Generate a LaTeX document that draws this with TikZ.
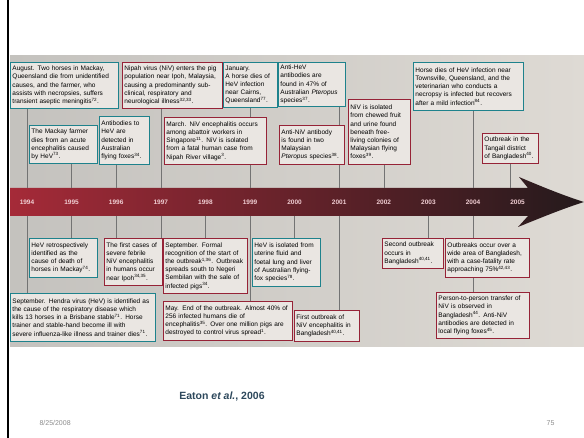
\documentclass[tikz,border=0pt]{standalone}
\usepackage{fontspec}
\setmainfont{Liberation Sans}
\definecolor{hevcol}{RGB}{30,130,140}
\definecolor{nivcol}{RGB}{150,35,55}
\definecolor{boxfill}{RGB}{234,230,226}
\definecolor{panelleft}{RGB}{196,194,190}
\definecolor{panelright}{RGB}{222,218,212}
\definecolor{bandleft}{RGB}{165,42,56}
\definecolor{bandmid}{RGB}{108,36,42}
\definecolor{bandright}{RGB}{36,26,28}
\definecolor{yearcol}{RGB}{240,205,210}
\definecolor{citecol}{RGB}{45,72,92}
\newcommand{\rf}[1]{\textsuperscript{#1}}
\tikzset{
  event/.style={draw, fill=boxfill, line width=0.9pt, anchor=north west, inner sep=2pt,
    align=left, font=\fontsize{6.5}{8.2}\selectfont},
  hev/.style={event, draw=hevcol},
  niv/.style={event, draw=nivcol},
  link/.style={draw=black!55, line width=0.6pt},
  year/.style={text=yearcol, font=\fontsize{6.5}{7}\selectfont\bfseries},
}
\begin{document}
\begin{tikzpicture}[x=1pt,y=-1pt]
\useasboundingbox (0,0) rectangle (584,438);
\fill[white] (0,0) rectangle (584,438);
\shade[left color=panelleft, right color=panelright] (10,56) rectangle (584,347);
\draw[line width=2pt] (8,0) -- (8,438);

% timeline arrow
\shade[left color=bandleft, middle color=bandmid, right color=bandright]
  (10,188) -- (528,188) -- (519,177) .. controls (545,188) and (565,196) .. (584,202)
  .. controls (565,208) and (545,216) .. (518,227) -- (528,216) -- (10,216) -- cycle;
\foreach \yr [count=\i from 0] in {1994,...,2005} {
  \coordinate (up\yr) at ({27+44.6*\i},188);
  \coordinate (dn\yr) at ({27+44.6*\i},216);
  \node[year] (yr\yr) at ({27+44.6*\i},202) {\yr};
}

% above the timeline
\node[hev, text width=104pt, minimum height=46pt] (b1) at (10,62) {August. Two horses in Mackay,\\ Queensland die from unidentified\\ causes, and the farmer, who\\ assists with necropsies, suffers\\ transient aseptic meningitis\rf{72}.};
\node[niv, text width=96pt, minimum height=46pt] (b4) at (122,62) {Nipah virus (NiV) enters the pig\\ population near Ipoh, Malaysia,\\ causing a predominantly sub-\\ clinical, respiratory and\\ neurological illness\rf{32,33}.};
\node[hev, text width=50pt, minimum height=45pt] (b6) at (223,62) {January.\\ A horse dies of\\ HeV infection\\ near Cairns,\\ Queensland\rf{77}.};
\node[hev, text width=63pt, minimum height=44pt] (b7) at (278,62) {Anti-HeV\\ antibodies are\\ found in 47\% of\\ Australian \textit{Pteropus}\\ species\rf{37}.};
\node[hev, text width=106pt, minimum height=48pt] (b10) at (413,62) {Horse dies of HeV infection near\\ Townsville, Queensland, and the\\ veterinarian who conducts a\\ necropsy is infected but recovers\\ after a mild infection\rf{84}.};
\node[hev, text width=64pt, minimum height=38pt] (b2) at (29,125) {The Mackay farmer\\ dies from an acute\\ encephalitis caused\\ by HeV\rf{73}.};
\node[hev, text width=46pt, minimum height=48pt] (b3) at (99,116) {Antibodies to\\ HeV are\\ detected in\\ Australian\\ flying foxes\rf{34}.};
\node[niv, text width=98pt, minimum height=47pt] (b5) at (164,117) {March. NiV encephalitis occurs\\ among abattoir workers in\\ Singapore\rf{11}. NiV is isolated\\ from a fatal human case from\\ Nipah River village\rf{3}.};
\node[niv, text width=61pt, minimum height=39pt] (b8) at (279,125) {Anti-NiV antibody\\ is found in two\\ Malaysian\\ \textit{Pteropus} species\rf{38}.};
\node[niv, text width=58pt, minimum height=65pt] (b9) at (348,99) {NiV is isolated\\ from chewed fruit\\ and urine found\\ beneath free-\\ living colonies of\\ Malaysian flying\\ foxes\rf{39}.};
\node[niv, text width=52pt, minimum height=30pt] (b11) at (482,133) {Outbreak in the\\ Tangail district\\ of Bangladesh\rf{40}.};

% below the timeline
\node[hev, text width=64pt, minimum height=39pt] (b12) at (29,238) {HeV retrospectively\\ identified as the\\ cause of death of\\ horses in Mackay\rf{74}.};
\node[niv, text width=54pt, minimum height=47pt] (b13) at (104,238) {The first cases of\\ severe febrile\\ NiV encephalitis\\ in humans occur\\ near Ipoh\rf{34,35}.};
\node[hev, text width=141pt, minimum height=48pt] (b14) at (10,293) {September. Hendra virus (HeV) is identified as\\ the cause of the respiratory disease which\\ kills 13 horses in a Brisbane stable\rf{71}. Horse\\ trainer and stable-hand become ill with\\ severe influenza-like illness and trainer dies\rf{71}.};
\node[niv, text width=80pt, minimum height=55pt] (b15) at (163,238) {September. Formal\\ recognition of the start of\\ the outbreak\rf{1,36}. Outbreak\\ spreads south to Negeri\\ Sembilan with the sale of\\ infected pigs\rf{34}.};
\node[niv, text width=125pt, minimum height=39pt] (b16) at (163,301) {May. End of the outbreak. Almost 40\% of\\ 256 infected humans die of\\ encephalitis\rf{35}. Over one million pigs are\\ destroyed to control virus spread\rf{1}.};
\node[hev, text width=64pt, minimum height=48pt] (b17) at (252,238) {HeV is isolated from\\ uterine fluid and\\ foetal lung and liver\\ of Australian flying-\\ fox species\rf{78}.};
\node[niv, text width=61pt, minimum height=31pt] (b18) at (294,310) {First outbreak of\\ NiV encephalitis in\\ Bangladesh\rf{40,41}.};
\node[niv, text width=57pt, minimum height=30pt] (b19) at (382,238) {Second outbreak\\ occurs in\\ Bangladesh\rf{40,41}.};
\node[niv, text width=80pt, minimum height=39pt] (b20) at (445,238) {Outbreaks occur over a\\ wide area of Bangladesh,\\ with a case-fatality rate\\ approaching 75\%\rf{42,43}.};
\node[niv, text width=89pt, minimum height=46pt] (b21) at (436,292) {Person-to-person transfer of\\ NiV is observed in\\ Bangladesh\rf{44}. Anti-NiV\\ antibodies are detected in\\ local flying foxes\rf{45}.};

\draw[link] (b1.south -| up1994) -- (up1994);
\draw[link] (b2.south -| up1995) -- (up1995);
\draw[link] (b3.south -| up1996) -- (up1996);
\draw[link] (b4.south -| up1997) -- (up1997);
\draw[link] (b6.south -| up1999) -- (b5.north -| up1999);
\draw[link] (b5.south -| up1999) -- (up1999);
\draw[link] (b7.south -| up2001) -- (b8.north -| up2001);
\draw[link] (b8.south -| up2001) -- (up2001);
\draw[link] (b9.south -| up2002) -- (up2002);
\draw[link] (b10.south -| up2004) -- (up2004);
\draw[link] (b11.south) -- (b11.south |- up2005);
\draw[link] (dn1994) -- (b14.north -| dn1994);
\draw[link] (dn1995) -- (b12.north -| dn1995);
\draw[link] (dn1996) -- (b13.north -| dn1996);
\draw[link] (dn1997) -- (b13.north -| dn1997);
\draw[link] (dn1998) -- (b15.north -| dn1998);
\draw[link] (dn1999) -- (b16.north -| dn1999);
\draw[link] (dn2000) -- (b17.north -| dn2000);
\draw[link] (dn2001) -- (b18.north -| dn2001);
\draw[link] (dn2003) -- (b19.north -| dn2003);
\draw[link] (dn2004) -- (b20.north -| dn2004);
\draw[link] (b20.south -| dn2004) -- (b21.north -| dn2004);

\node[text=citecol, font=\fontsize{10.5}{12}\selectfont\bfseries] (cite) at (222,397) {Eaton \textit{et al.}, 2006};
\node[text=black!45, font=\fontsize{7}{8}\selectfont, anchor=west] (date) at (36,423) {8/25/2008};
\node[text=black!45, font=\fontsize{7}{8}\selectfont, anchor=east] (page) at (558,423) {75};
\end{tikzpicture}
\end{document}
